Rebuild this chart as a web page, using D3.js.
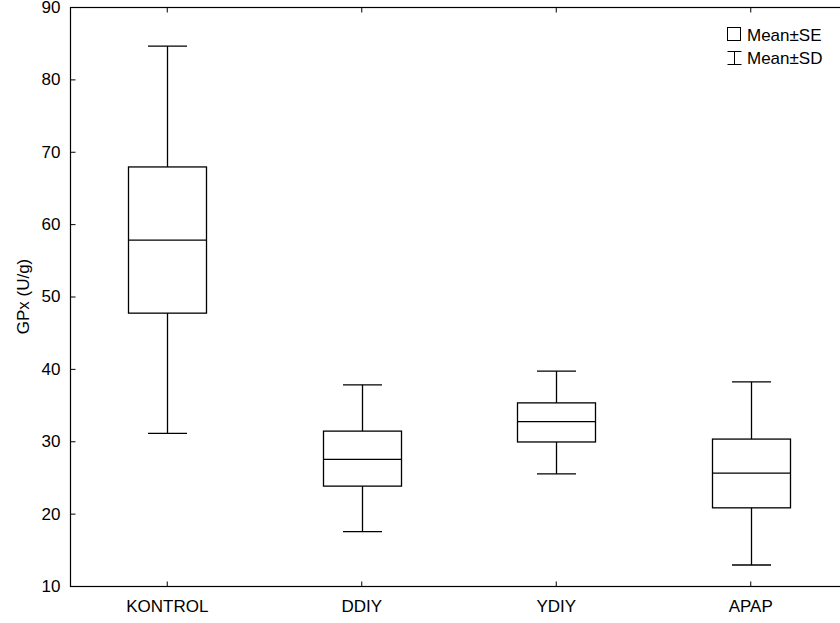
<!DOCTYPE html>
<html><head><meta charset="utf-8">
<script src="https://cdn.jsdelivr.net/npm/d3@7"></script>
<style>body{margin:0;background:#fff}svg{display:block}</style>
</head><body>
<script>
const categories = ["KONTROL","DDIY","YDIY","APAP"];
const sdHigh  = [84.6, 37.8, 39.7, 38.2];
const seHigh  = [67.9, 31.4, 35.3, 30.3];
const means   = [57.8, 27.5, 32.7, 25.6];
const seLow   = [47.7, 23.8, 29.9, 20.8];
const sdLow   = [31.1, 17.5, 25.5, 12.9];
const yTicks  = [10,20,30,40,50,60,70,80,90];

const W = 840, H = 623;
const m = {l:70, t:7, r:-8, b:37};
const FONT = "'Liberation Sans', Arial, sans-serif";
const svg = d3.select("body").append("svg").attr("width",W).attr("height",H)
  .style("font-family",FONT);

const x = d3.scaleBand().domain(categories).range([m.l, W - m.r]);
const y = d3.scaleLinear().domain([10,90]).range([H - m.b, m.t]);

const data = categories.map((c,i)=>({c, sdH:sdHigh[i], seH:seHigh[i], mean:means[i], seL:seLow[i], sdL:sdLow[i]}));

// frame
svg.append("rect").attr("x",m.l+0.5).attr("y",m.t+0.5)
  .attr("width",(W-m.r)-m.l).attr("height",(H-m.b)-m.t)
  .attr("fill","none").attr("stroke","#000").attr("stroke-width",1.2);

// y axis
const ya = svg.append("g").attr("transform",`translate(${m.l+0.5},0)`)
  .call(d3.axisLeft(y).tickValues(yTicks).tickSize(-5).tickPadding(10).tickFormat(d3.format("d")));
ya.select(".domain").remove();
ya.selectAll("text").attr("font-size",17).attr("fill","#000").attr("font-family",FONT);
ya.selectAll("line").attr("stroke","#000");

// x axis bottom
const xa = svg.append("g").attr("transform",`translate(0,${H-m.b+0.5})`)
  .call(d3.axisBottom(x).tickSize(-5).tickPadding(13));
xa.select(".domain").remove();
xa.selectAll("text").attr("font-size",17).attr("fill","#000").attr("font-family",FONT);
xa.selectAll("line").attr("stroke","#000");
// x ticks top
const xt = svg.append("g").attr("transform",`translate(0,${m.t+0.5})`)
  .call(d3.axisTop(x).tickSize(-5).tickFormat(""));
xt.select(".domain").remove();
xt.selectAll("line").attr("stroke","#000");

// y label
svg.append("text").attr("transform",`translate(29,${(m.t+H-m.b)/2}) rotate(-90)`)
  .attr("text-anchor","middle").attr("font-size",17).text("GPx (U/g)");

const boxW = 78, capW = 39;
const g = svg.append("g").attr("stroke","#000").attr("stroke-width",1.3).attr("fill","none");
data.forEach(d=>{
  const cx = Math.round(x(d.c) + x.bandwidth()/2) + 0.5;
  g.append("line").attr("x1",cx).attr("x2",cx).attr("y1",y(d.sdH)).attr("y2",y(d.seH));
  g.append("line").attr("x1",cx).attr("x2",cx).attr("y1",y(d.seL)).attr("y2",y(d.sdL));
  g.append("line").attr("x1",cx-capW/2).attr("x2",cx+capW/2).attr("y1",y(d.sdH)).attr("y2",y(d.sdH));
  g.append("line").attr("x1",cx-capW/2).attr("x2",cx+capW/2).attr("y1",y(d.sdL)).attr("y2",y(d.sdL));
  g.append("rect").attr("x",cx-boxW/2).attr("y",y(d.seH)).attr("width",boxW).attr("height",y(d.seL)-y(d.seH));
  g.append("line").attr("x1",cx-boxW/2).attr("x2",cx+boxW/2).attr("y1",y(d.mean)).attr("y2",y(d.mean));
});

// legend
const lg = svg.append("g").attr("font-size",17);
lg.append("rect").attr("x",727.5).attr("y",27.5).attr("width",13).attr("height",13)
  .attr("fill","none").attr("stroke","#000");
lg.append("text").attr("x",747).attr("y",41).text("Mean±SE");
const ex = 734.5;
lg.append("line").attr("x1",ex).attr("x2",ex).attr("y1",51).attr("y2",64).attr("stroke","#000");
lg.append("line").attr("x1",ex-7).attr("x2",ex+7).attr("y1",51.5).attr("y2",51.5).attr("stroke","#000");
lg.append("line").attr("x1",ex-7).attr("x2",ex+7).attr("y1",64.5).attr("y2",64.5).attr("stroke","#000");
lg.append("text").attr("x",747).attr("y",64).text("Mean±SD");
</script>
</body></html>
